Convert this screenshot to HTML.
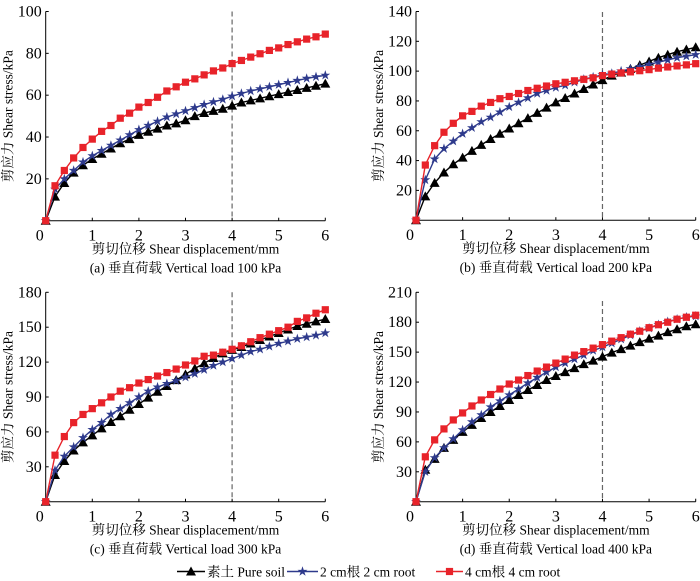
<!DOCTYPE html>
<html><head><meta charset="utf-8">
<style>
body{margin:0;background:#fff;}
svg{display:block;font-family:"Liberation Serif","Noto Serif CJK SC",serif;}
</style></head>
<body>
<svg id="chart" width="700" height="581" viewBox="0 0 700 581"></svg>
<script>
const xValues = [0,0.2,0.4,0.6,0.8,1,1.2,1.4,1.6,1.8,2,2.2,2.4,2.6,2.8,3,3.2,3.4,3.6,3.8,4,4.2,4.4,4.6,4.8,5,5.2,5.4,5.6,5.8,6];
const xTicks = [0,1,2,3,4,5,6];
const seriesNames = ["素土 Pure soil","2 cm根 2 cm root","4 cm根 4 cm root"];
const aSoil = [0,11.5,18,23,26.5,29.5,32,34.5,37,39,41,42.5,44,45.5,46.5,48,50,51.5,52.5,53.5,55,56.5,57.5,58.5,59.5,60.5,61.5,62.5,63.5,64.5,65.5];
const aRoot2 = [0,15,20,24,28,31,33.5,36,38.5,41,43.5,45.5,47.5,49.5,51,52.5,54,55.5,56.8,58,59.5,60.8,62,63,64,65,66,67,68,68.8,69.5];
const aRoot4 = [0,16.7,24,30,35,39,42.7,45.5,49,51.4,54.3,56.5,59,62,64,66.2,67.8,69.7,71.6,73,75.1,76.6,78.2,79.8,81.4,82.6,84.2,85.5,86.8,87.9,89.2];
const bSoil = [0,16,25,32,37.5,42,46.5,50.5,54.5,58,61.5,65,68.5,72,75.5,79,82,85,88,91,94,97,99,101.5,104,106.5,109,111,113,114.5,116];
const bRoot2 = [0,27,41,48,53,58,62,66,69,72.5,76,79,82,85,87,89,90.5,92.5,94.5,96,97.5,98.5,100,101.5,103,104.5,106,107.5,109,110,111];
const bRoot4 = [0,37,50,59,65,70,73,76.5,79,81.5,83,85,87,88.5,90,91.5,92.5,93.5,94.5,95.5,97,98,98.8,99.5,100.3,101,102,102.8,103.5,104.2,105];
const cSoil = [0,23,35,44,51,57,63,68.5,73.5,79,84,89.5,94.5,99.5,104.5,109.5,114.5,119,123.5,127.5,130.5,133,136,139,142,145,148,151,153,155,157];
const cRoot2 = [0,27,39,47,55,62,68,75,80,85,90,95,98.5,101.5,104,107,110,113.5,117,120,123,126,129,131,133.5,136,138,140,141.5,143,145];
const cRoot4 = [0,40,56,68,75,80,85,90,95,98,102,105,108,111,114,117.5,121,125,126,128.5,131,134,137.5,141,144,147,150,155,158,162,165];
const dSoil = [0,32,43,54,62,70,77,84,90,96,102,107,112,117,122,126,130,134,138,141.5,145.5,149.5,153,156.5,160,163.5,166.5,170,173,176,178];
const dRoot2 = [0,30,44,54,63,72,80,87,95,101,107,113,119,124.5,130,135,139,143,147,151.5,155,159,163,167,171,174,177.5,180.5,183,185,186];
const dRoot4 = [0,45,62,73,82,89,96,102,107.5,113,118,122,126.5,131,135,139,143,147,150.5,154,157.5,161,164.5,168,171,174.5,177.5,180,183,185,187];
const aTicks = [20,40,60,80,100];
const bTicks = [20,40,60,80,100,120,140];
const cTicks = [30,60,90,120,150,180];
const dTicks = [30,60,90,120,150,180,210];
const captions = ["(a) 垂直荷载 Vertical load 100 kPa","(b) 垂直荷载 Vertical load 200 kPa","(c) 垂直荷载 Vertical load 300 kPa","(d) 垂直荷载 Vertical load 400 kPa"];

const NS="http://www.w3.org/2000/svg";
const svg=document.getElementById('chart');
const colors=["#000","#2e3a8c","#e8232a"];
function mk(tag,attrs,parent){const e=document.createElementNS(NS,tag);for(const k in attrs)e.setAttribute(k,attrs[k]);(parent||svg).appendChild(e);return e;}
function marker(g,type,x,y,color){
  let m;
  if(type===0){m=mk('polygon',{points:`${x},${y-5} ${x-5},${y+4} ${x+5},${y+4}`,fill:color},g);}
  else if(type===1){let p=[];for(let i=0;i<10;i++){const r=i%2?2:5.2;const a=-Math.PI/2+i*Math.PI/5;p.push((x+r*Math.cos(a)).toFixed(1)+','+(y+r*Math.sin(a)).toFixed(1));}
    m=mk('polygon',{points:p.join(' '),fill:color},g);}
  else {m=mk('rect',{x:x-3.6,y:y-3.6,width:7.2,height:7.2,fill:color},g);}
  return m;
}
function panel(key,L,R,T,B,ymax,yTicks,series,caption,dashTop){
  const g=mk('g',{});
  
  
  const sx=v=>L+(R-L)*v/6, sy=v=>B-(B-T)*v/ymax;
  // dashed line at x=4
  const dl=mk('line',{x1:sx(4),x2:sx(4),y1:dashTop,y2:B,stroke:'#666','stroke-width':1.2,'stroke-dasharray':'5,3'},g);
  
  
  const ax=mk('path',{d:`M${L},${T} L${L},${B} L${R},${B}`,fill:'none',stroke:'#000','stroke-width':1},g);
  
  
  xTicks.forEach(t=>{
    mk('line',{x1:sx(t),x2:sx(t),y1:B,y2:B-3,stroke:'#000'},g);
    const tx=mk('text',{x:sx(t)+(t===0?-6:0),y:B+20,'text-anchor':'middle','font-size':16},g);
    tx.textContent=t;
    
    
  });
  yTicks.forEach(t=>{
    mk('line',{x1:L,x2:L+3,y1:sy(t),y2:sy(t),stroke:'#000'},g);
    const tx=mk('text',{x:L-4,y:sy(t)+5,'text-anchor':'end','font-size':16},g);
    tx.textContent=t;
    
    
  });
  const xt=mk('text',{x:(L+R)/2,y:B+33,'text-anchor':'middle','font-size':13.5},g);
  xt.textContent='剪切位移 Shear displacement/mm';
  
  
  const cp=mk('text',{x:(L+R)/2,y:B+52,'text-anchor':'middle','font-size':13.5},g);
  cp.textContent=caption;
  
  
  const yc=(T+B)/2, yx=L-33;
  const yt=mk('text',{x:yx,y:yc,'text-anchor':'middle','font-size':13.5,transform:`rotate(-90 ${yx} ${yc})`},g);
  yt.textContent='剪应力 Shear stress/kPa';
  
  
  series.forEach((vals,si)=>{
    const sg=mk('g',{},g);
    
    
    const pts=vals.map((v,i)=>sx(xValues[i]).toFixed(1)+','+sy(v).toFixed(1)).join(' ');
    mk('polyline',{points:pts,fill:'none',stroke:colors[si],'stroke-width':1.4},sg);
    vals.forEach((v,i)=>{const m=marker(sg,si,sx(xValues[i]),sy(v),colors[si]);
      
      });
  });
}
panel('a',45.7,325.3,11.5,220.7,100,aTicks,[aSoil,aRoot2,aRoot4],captions[0],11.5);
panel('b',416,695.7,11.5,220.2,140,bTicks,[bSoil,bRoot2,bRoot4],captions[1],12);
panel('c',45.7,325.3,292.3,501.7,180,cTicks,[cSoil,cRoot2,cRoot4],captions[2],292.3);
panel('d',416,695.7,292.3,501.7,210,dTicks,[dSoil,dRoot2,dRoot4],captions[3],301);
// legend
const lg=mk('g',{});


const legX=[[177,207],[287,320],[436,465]];
seriesNames.forEach((n,i)=>{
  const e=mk('g',{},lg);
  
  
  const y=571.5;
  mk('line',{x1:legX[i][0],x2:legX[i][1]-2,y1:y,y2:y,stroke:colors[i],'stroke-width':1.4},e);
  marker(e,i,(legX[i][0]+legX[i][1]-2)/2,y,colors[i]);
  const t=mk('text',{x:legX[i][1],y:y+5,'font-size':13.5},e);
  t.textContent=n;
});
</script>
</body></html>
